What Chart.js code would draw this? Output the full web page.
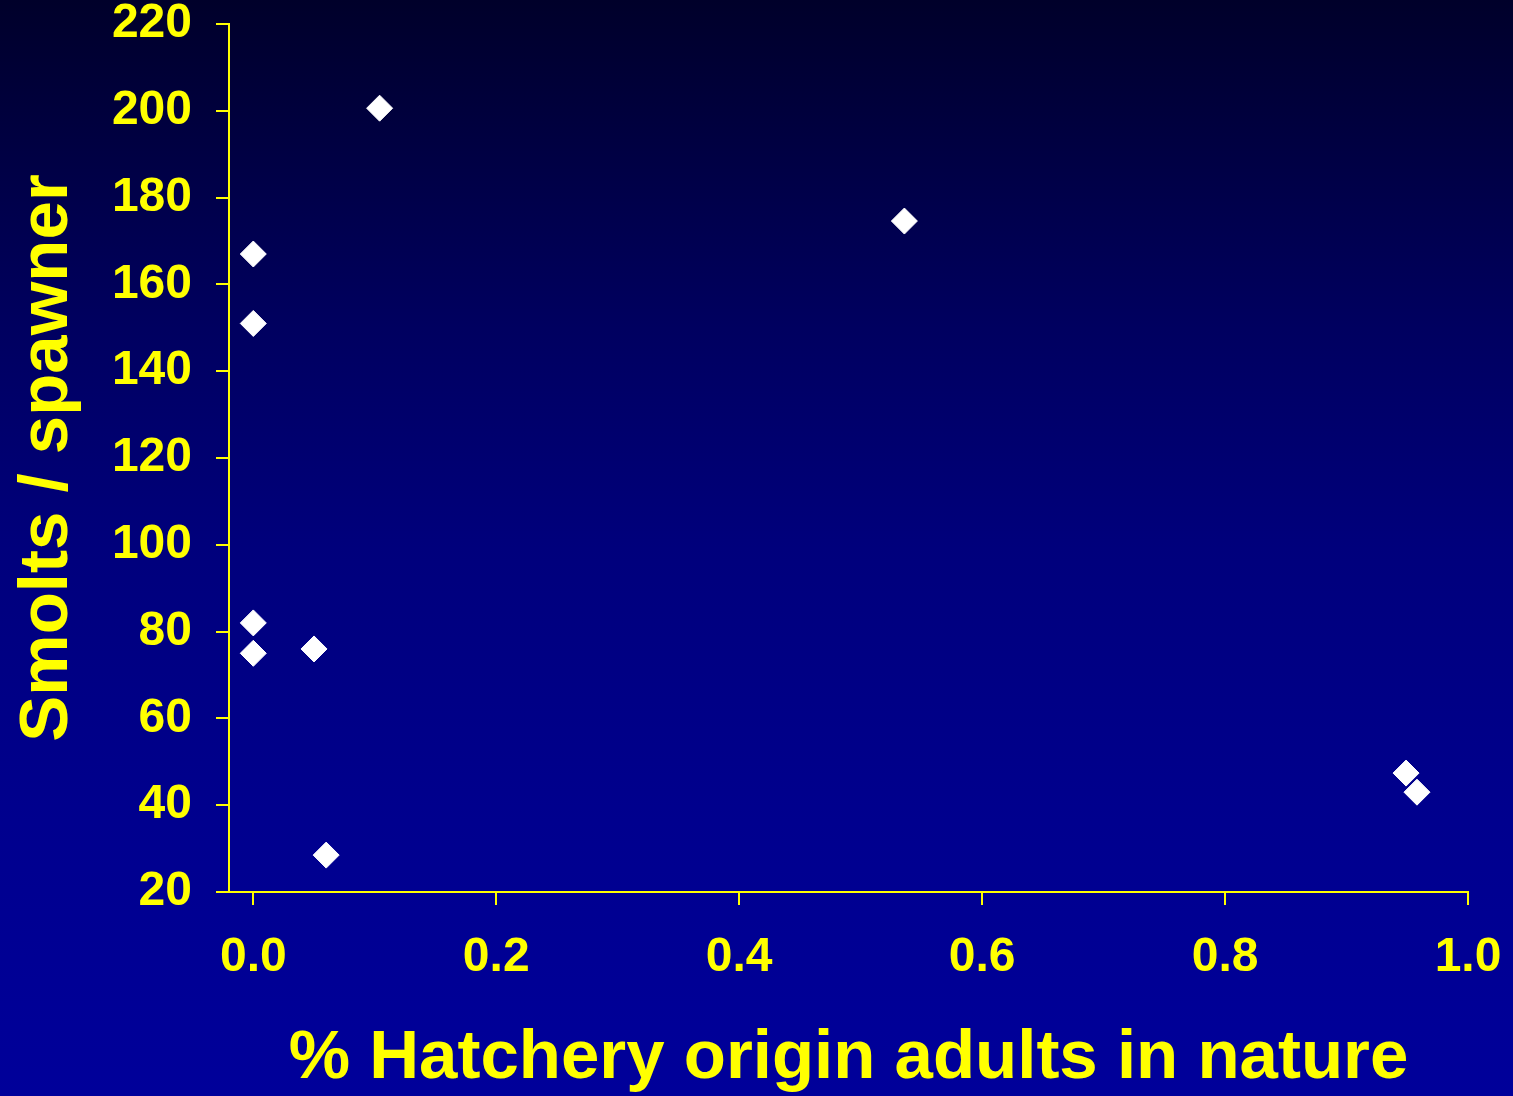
<!DOCTYPE html>
<html lang="en">
<head>
    <meta charset="UTF-8">
    <title>Smolts / spawner</title>
    <script src="https://cdn.jsdelivr.net/npm/chart.js"></script>
    <style>
        html, body { margin: 0; padding: 0; }
        body {
            width: 1513px;
            height: 1096px;
            overflow: hidden;
            background: linear-gradient(to bottom, #00002a 0%, #000060 30%, #00007c 50%, #00008e 75%, #00009a 100%);
        }
        #grafico { display: block; }
    </style>
</head>
<body>
    <canvas id="grafico" width="1513" height="1096"></canvas>

    <script>
        // data
        const hatcheryFraction = [0.0, 0.0, 0.0, 0.0, 0.05, 0.06, 0.104, 0.536, 0.949, 0.958];
        const smoltsPerSpawner = [167, 151, 82, 75, 76, 28.5, 200.6, 174.6, 47.4, 43];
        const xTicks = [0.0, 0.2, 0.4, 0.6, 0.8, 1.0];
        const yTicks = [20, 40, 60, 80, 100, 120, 140, 160, 180, 200, 220];

        const amarelo = '#ffff00';
        const fonte = '"Liberation Sans", Arial, sans-serif';

        const pontos = hatcheryFraction.map((x, i) => ({ x: x, y: smoltsPerSpawner[i] }));

        // no automatic padding for labels at the ends, the layout padding does it
        function semPadding(scale) {
            scale.paddingTop = 0;
            scale.paddingBottom = 0;
            scale.paddingLeft = 0;
            scale.paddingRight = 0;
        }

        new Chart(document.getElementById('grafico'), {
            type: 'scatter',
            data: {
                datasets: [{
                    data: pontos,
                    pointStyle: 'rectRot',
                    pointRadius: 13,
                    pointHoverRadius: 13,
                    backgroundColor: '#ffffff',
                    borderColor: '#ffffff',
                    borderWidth: 1
                }]
            },
            options: {
                responsive: false,
                animation: false,
                events: [],
                layout: { padding: { top: 24, right: 45, left: 0, bottom: 0 } },
                plugins: {
                    legend: { display: false },
                    tooltip: { enabled: false }
                },
                scales: {
                    x: {
                        type: 'linear',
                        min: -0.02,
                        max: 1.0,
                        afterBuildTicks: (scale) => { scale.ticks = xTicks.map(v => ({ value: v })); },
                        afterFit: (scale) => { scale.height = 204; semPadding(scale); },
                        border: { display: true, color: amarelo, width: 2 },
                        grid: { drawOnChartArea: false, drawTicks: true, tickLength: 13, color: amarelo, lineWidth: 2 },
                        ticks: {
                            color: amarelo,
                            padding: 29,
                            maxRotation: 0,
                            font: { family: fonte, size: 48, weight: 'bold', lineHeight: 1 },
                            callback: (v) => Number(v).toFixed(1)
                        },
                        title: {
                            display: true,
                            text: '% Hatchery origin adults in nature',
                            color: amarelo,
                            padding: { top: 0, bottom: 1 },
                            font: { family: fonte, size: 69, weight: 'bold', lineHeight: 1.05 }
                        }
                    },
                    y: {
                        min: 20,
                        max: 220,
                        afterBuildTicks: (scale) => { scale.ticks = yTicks.map(v => ({ value: v })); },
                        afterFit: (scale) => { scale.width = 229; semPadding(scale); },
                        border: { display: true, color: amarelo, width: 2 },
                        grid: { drawOnChartArea: false, drawTicks: true, tickLength: 13, color: amarelo, lineWidth: 2 },
                        ticks: {
                            color: amarelo,
                            padding: 24,
                            font: { family: fonte, size: 48, weight: 'bold', lineHeight: 1 }
                        },
                        title: {
                            display: true,
                            text: 'Smolts / spawner',
                            color: amarelo,
                            padding: { top: 7, bottom: 0 },
                            font: { family: fonte, size: 69, weight: 'bold' }
                        }
                    }
                }
            }
        });
    </script>
</body>
</html>
